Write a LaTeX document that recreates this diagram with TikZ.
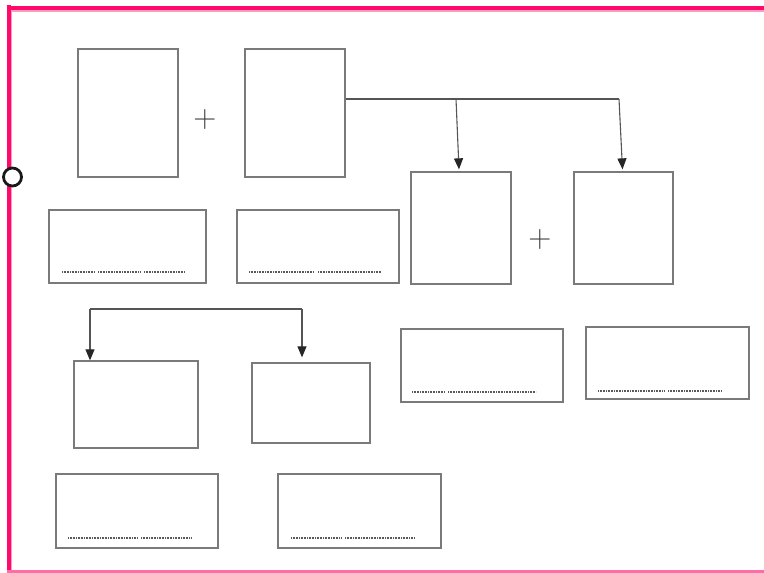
\documentclass[tikz,border=0pt]{standalone}
\usepackage{tikz}
\usepackage{xcolor}
\usetikzlibrary{positioning, calc, arrows.meta}

\definecolor{framepink}{HTML}{FF0A6C}
\definecolor{framelight}{HTML}{FF9CC0}
\definecolor{boxgray}{HTML}{7A7A7A}

\tikzset{
  card/.style={draw=boxgray, line width=1.3pt, inner sep=0pt, fill=white},
  caption/.style={card, minimum width=160pt, minimum height=73pt},
  placeholder/.style={draw=black!65, line width=1.9pt, dash pattern=on 1pt off 0.6pt},
  link/.style={draw=boxgray!70!black, line width=1.1pt},
  pointer/.style={link, -{Triangle[length=11pt,width=9pt,color=black!85,fill=black!85]}},
  plus/.style={text=black!75, font=\fontsize{32}{32}\selectfont, inner sep=0pt}
}

\begin{document}
\begin{tikzpicture}[x=1pt, y=-1pt]
                    \useasboundingbox (0,0) rectangle (764,573);

                    % frame
                    \draw[framepink, line width=4pt] (8.5,5) -- (8.5,573);
                    \draw[framelight, line width=1.2pt] (11.5,10) -- (11.5,570);
                    \draw[framepink, line width=4pt] (6.5,7.5) -- (764,7.5);
                    \draw[framelight, line width=1.2pt] (11,11) -- (764,11);
                    \draw[framepink!60, line width=2.5pt] (6.5,571.5) -- (764,571.5);
                    \node[circle, draw=black!90, line width=2.8pt, fill=white, minimum size=18pt, inner sep=0pt] (handle) at (12.5,177) {};

                    % first row
                    \node[card, minimum width=100pt, minimum height=128pt] (A) at (128,113) {};
                    \node[plus] (plusAB) at (205,120) {+};
                    \node[card, minimum width=100pt, minimum height=128pt] (B) at (295,113) {};
                    \node[caption, minimum width=157pt] (capA) at (127.5,246.5) {};
                    \node[caption, minimum width=162pt] (capB) at (318,246.5) {};

                    % second row
                    \node[card, minimum width=100pt, minimum height=112pt] (C) at (461,228) {};
                    \node[plus] (plusCD) at (540,240) {+};
                    \node[card, minimum width=99pt, minimum height=112pt] (D) at (623.5,228) {};
                    \node[caption, minimum width=162pt] (capC) at (482,365.5) {};
                    \node[caption, minimum width=163pt, minimum height=72pt] (capD) at (667.5,363) {};

                    % third row
                    \node[card, minimum width=124pt, minimum height=87pt] (E) at (136,404.5) {};
                    \node[card, minimum width=118pt, minimum height=80pt] (F) at (311,403) {};
                    \node[caption, minimum width=162pt, minimum height=74pt] (capE) at (137,511) {};
                    \node[caption, minimum width=163pt, minimum height=74pt] (capF) at (359.5,511) {};

                    % placeholder lines
                    \foreach \xa/\xb/\yy in {62/95/272, 98/140/272, 144/185/272,
                                             249/314/272, 318/381/272,
                                             412/445/392, 448/536/392,
                                             598/664/391, 668/722/391,
                                             68/138/538, 141/192/538,
                                             291/342/538, 345/414/538}
                        \draw[placeholder] (\xa,\yy) -- (\xb,\yy);

                    % connectors
                    \coordinate (topfork) at (456,99);
                    \coordinate (topend) at (619,99);
                    \draw[link] (B.east |- topfork) -- (topend);
                    \draw[pointer] (topfork) -- ([xshift=-2pt,yshift=2pt]C.north);
                    \draw[pointer] (topend) -- ([xshift=-1pt,yshift=2pt]D.north);

                    \coordinate (lowleft) at (90,309);
                    \coordinate (lowright) at (302,309);
                    \draw[link] (lowleft) -- (lowright);
                    \draw[pointer] (lowleft) -- (lowleft |- E.north);
                    \draw[pointer] (lowright) -- ([yshift=5pt]lowright |- F.north);
                \end{tikzpicture}
\end{document}
